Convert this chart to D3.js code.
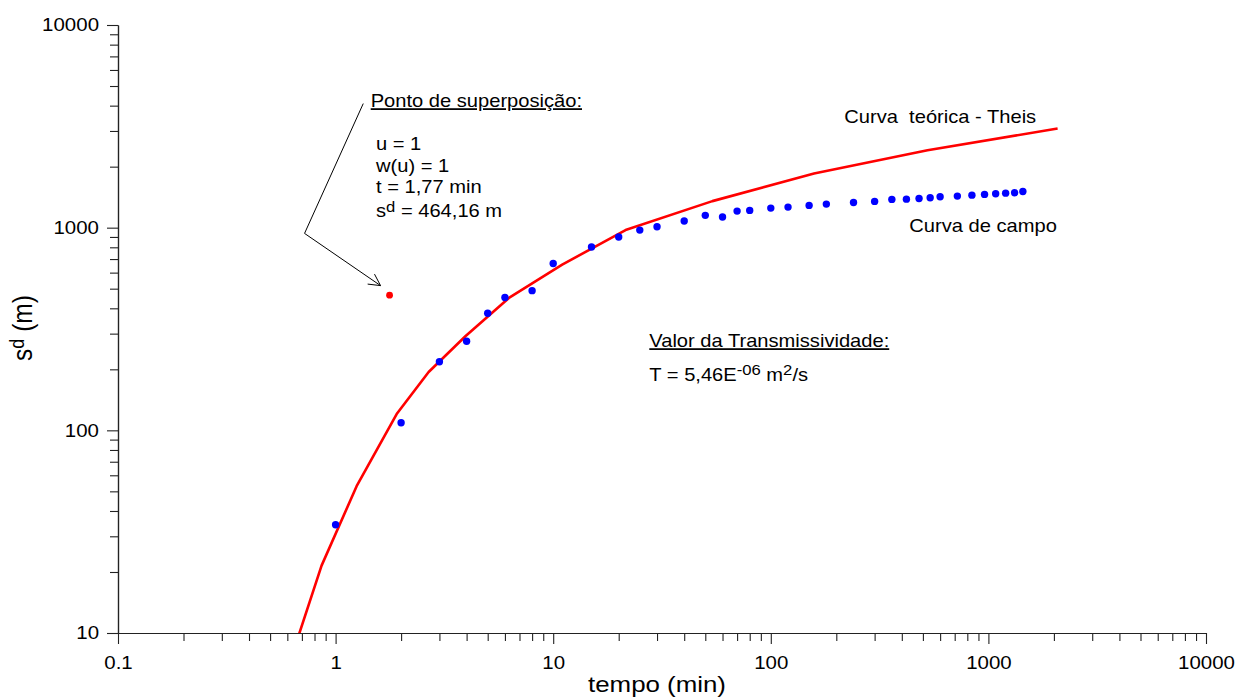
<!DOCTYPE html>
<html>
<head>
<meta charset="utf-8">
<script src="https://cdn.jsdelivr.net/npm/d3@7"></script>
<style>
  html, body { margin: 0; padding: 0; background: #fff; }
  svg { display: block; }
  text { font-family: "Liberation Sans", Arial, Helvetica, sans-serif; fill: #000; white-space: pre; }
</style>
</head>
<body>
<svg id="chart" width="1237" height="697"></svg>
<script>
// Theis type curve (time in min, drawdown in m)
const curveTime = [0.68, 0.862, 1.249, 1.908, 2.677, 3.96, 6.26, 11.0, 21.5, 53.9, 158, 525, 2080];
const curveDrawdown = [9.9, 21.5, 53.0, 120.3, 194, 292, 450, 657, 973, 1352, 1851, 2412, 3083];

// Field measurements
const fieldTime = [1, 2, 3, 4, 5, 6, 8, 10, 15, 20, 25, 30, 40, 50, 60, 70, 80, 100, 120, 150, 180,
                   240, 300, 360, 420, 480, 540, 600, 720, 840, 960, 1080, 1200, 1320, 1440];
const fieldDrawdown = [34.2, 109, 218, 275, 378, 452, 489, 665, 803, 899, 973, 1011, 1078, 1150, 1128,
                       1207, 1217, 1249, 1263, 1288, 1307, 1332, 1348, 1379, 1383, 1394, 1405, 1421,
                       1431, 1447, 1459, 1470, 1480, 1487, 1509];

// Superposition (match) point
const matchTime = [1.77];
const matchDrawdown = [464.16];

// Axis ticks
const xMajorTicks = [0.1, 1, 10, 100, 1000, 10000];
const xTickLabels = ["0.1", "1", "10", "100", "1000", "10000"];
const yMajorTicks = [10, 100, 1000, 10000];
const yTickLabels = ["10", "100", "1000", "10000"];

const SX = 1.15; // horizontal text stretch

const svg = d3.select("#chart");
svg.append("rect").attr("width", 1237).attr("height", 697).attr("fill", "#fff");

const x = d3.scaleLog().domain([0.1, 10000]).range([118, 1206]);
const y = d3.scaleLog().domain([10, 10000]).range([633, 25]);

function minorTicks(majors) {
  const out = [];
  for (let i = 0; i < majors.length - 1; i++)
    for (let k = 2; k <= 9; k++) out.push(majors[i] * k);
  return out;
}

// ---- axes ----
const axisColor = "#222";
const gx = svg.append("g").attr("transform", "translate(0,633)");
gx.call(d3.axisBottom(x).tickValues(minorTicks(xMajorTicks)).tickSize(8).tickSizeOuter(0).tickFormat(""));
const gxMaj = svg.append("g").attr("transform", "translate(0,633)");
gxMaj.call(d3.axisBottom(x).tickValues(xMajorTicks).tickSize(11).tickSizeOuter(0).tickPadding(12)
  .tickFormat((d, i) => xTickLabels[i]));

const gy = svg.append("g").attr("transform", "translate(118,0)");
gy.call(d3.axisLeft(y).tickValues(minorTicks(yMajorTicks)).tickSize(8).tickSizeOuter(0).tickFormat(""));
const gyMaj = svg.append("g").attr("transform", "translate(118,0)");
gyMaj.call(d3.axisLeft(y).tickValues(yMajorTicks).tickSize(11).tickSizeOuter(0).tickPadding(8)
  .tickFormat((d, i) => yTickLabels[i]));

svg.selectAll(".domain").attr("stroke", axisColor).attr("stroke-width", 1.2);
svg.selectAll(".tick line").attr("stroke", axisColor).attr("stroke-width", 1.1);
svg.selectAll(".tick text")
  .attr("fill", "#000")
  .style("font-family", '"Liberation Sans", Arial, sans-serif')
  .style("font-size", "17.8px")
  .each(function () {
    const t = d3.select(this);
    const xv = +t.attr("x") || 0;
    t.attr("x", xv / SX).attr("transform", `scale(${SX},1)`);
  });

// ---- text helper ----
function label(parent, px, py, anchor, size) {
  return parent.append("text")
    .attr("transform", `translate(${px},${py}) scale(${SX},1)`)
    .attr("text-anchor", anchor)
    .style("font-size", size + "px");
}

// axis titles
label(svg, 657, 692, "middle", 22.5).text("tempo (min)");
const yt = svg.append("text")
  .attr("transform", `translate(32,328) scale(${SX},1) rotate(-90)`)
  .attr("text-anchor", "middle")
  .style("font-size", "24.5px");
yt.append("tspan").text("s");
yt.append("tspan").attr("dy", -7).style("font-size", "18px").text("d");
yt.append("tspan").attr("dy", 7).text(" (m)");

// ---- plot content, clipped to plot area ----
svg.append("clipPath").attr("id", "plotArea")
  .append("rect").attr("x", 118).attr("y", 25).attr("width", 1206 - 118).attr("height", 633 - 25);

const plot = svg.append("g").attr("clip-path", "url(#plotArea)");

const curve = curveTime.map((t, i) => [t, curveDrawdown[i]]);
plot.append("path")
  .datum(curve)
  .attr("fill", "none")
  .attr("stroke", "#ff0000")
  .attr("stroke-width", 2.6)
  .attr("stroke-linejoin", "round")
  .attr("d", d3.line().x(d => x(d[0])).y(d => y(d[1])));

const field = fieldTime.map((t, i) => [t, fieldDrawdown[i]]);
plot.selectAll("circle.field")
  .data(field)
  .enter().append("circle")
  .attr("class", "field")
  .attr("cx", d => x(d[0]))
  .attr("cy", d => y(d[1]))
  .attr("r", 3.7)
  .attr("fill", "#0000ff");

const match = matchTime.map((t, i) => [t, matchDrawdown[i]]);
plot.selectAll("circle.match")
  .data(match)
  .enter().append("circle")
  .attr("class", "match")
  .attr("cx", d => x(d[0]))
  .attr("cy", d => y(d[1]))
  .attr("r", 3.4)
  .attr("fill", "#ff0000");

// ---- leader arrow to the superposition point ----
const arrowPts = [[1.34, 4096], [0.72, 937]].map(d => [x(d[0]), y(d[1])]);
const tip = [x(matchTime[0]) - 9, y(matchDrawdown[0]) - 9.6];
arrowPts.push(tip);
svg.append("path")
  .attr("d", d3.line()(arrowPts))
  .attr("fill", "none").attr("stroke", "#000").attr("stroke-width", 1);
{
  const prev = arrowPts[1];
  const ang = Math.atan2(tip[1] - prev[1], tip[0] - prev[0]);
  const len = 13, spread = Math.PI / 6.5;
  const b1 = [tip[0] - len * Math.cos(ang - spread), tip[1] - len * Math.sin(ang - spread)];
  const b2 = [tip[0] - len * Math.cos(ang + spread), tip[1] - len * Math.sin(ang + spread)];
  svg.append("path")
    .attr("d", d3.line()([b1, tip, b2]))
    .attr("fill", "none").attr("stroke", "#000").attr("stroke-width", 1);
}

// ---- annotations ----
label(svg, 370.7, 107.3, "start", 17.5).style("text-decoration", "underline").text("Ponto de superposição:");
label(svg, 376, 150, "start", 17.5).text("u = 1");
label(svg, 376, 171.7, "start", 17.5).text("w(u) = 1");
label(svg, 376, 192.7, "start", 17.5).text("t = 1,77 min");
{
  const t = label(svg, 376, 216.7, "start", 17.5);
  t.append("tspan").text("s");
  t.append("tspan").attr("dy", -5).style("font-size", "14.5px").text("d");
  t.append("tspan").attr("dy", 5).text(" = 464,16 m");
}

label(svg, 844.3, 123.3, "start", 17.5).text("Curva  teórica - Theis");
label(svg, 909.3, 231.7, "start", 17.5).text("Curva de campo");

label(svg, 649.3, 347.3, "start", 17.5).style("text-decoration", "underline").text("Valor da Transmissividade:");
{
  const t = label(svg, 649.3, 380.7, "start", 17.5);
  t.append("tspan").text("T = 5,46E");
  t.append("tspan").attr("dy", -6).style("font-size", "14.5px").text("-06");
  t.append("tspan").attr("dy", 6).text(" m");
  t.append("tspan").attr("dy", -6).style("font-size", "14.5px").text("2");
  t.append("tspan").attr("dy", 6).text("/s");
}
</script>
</body>
</html>
